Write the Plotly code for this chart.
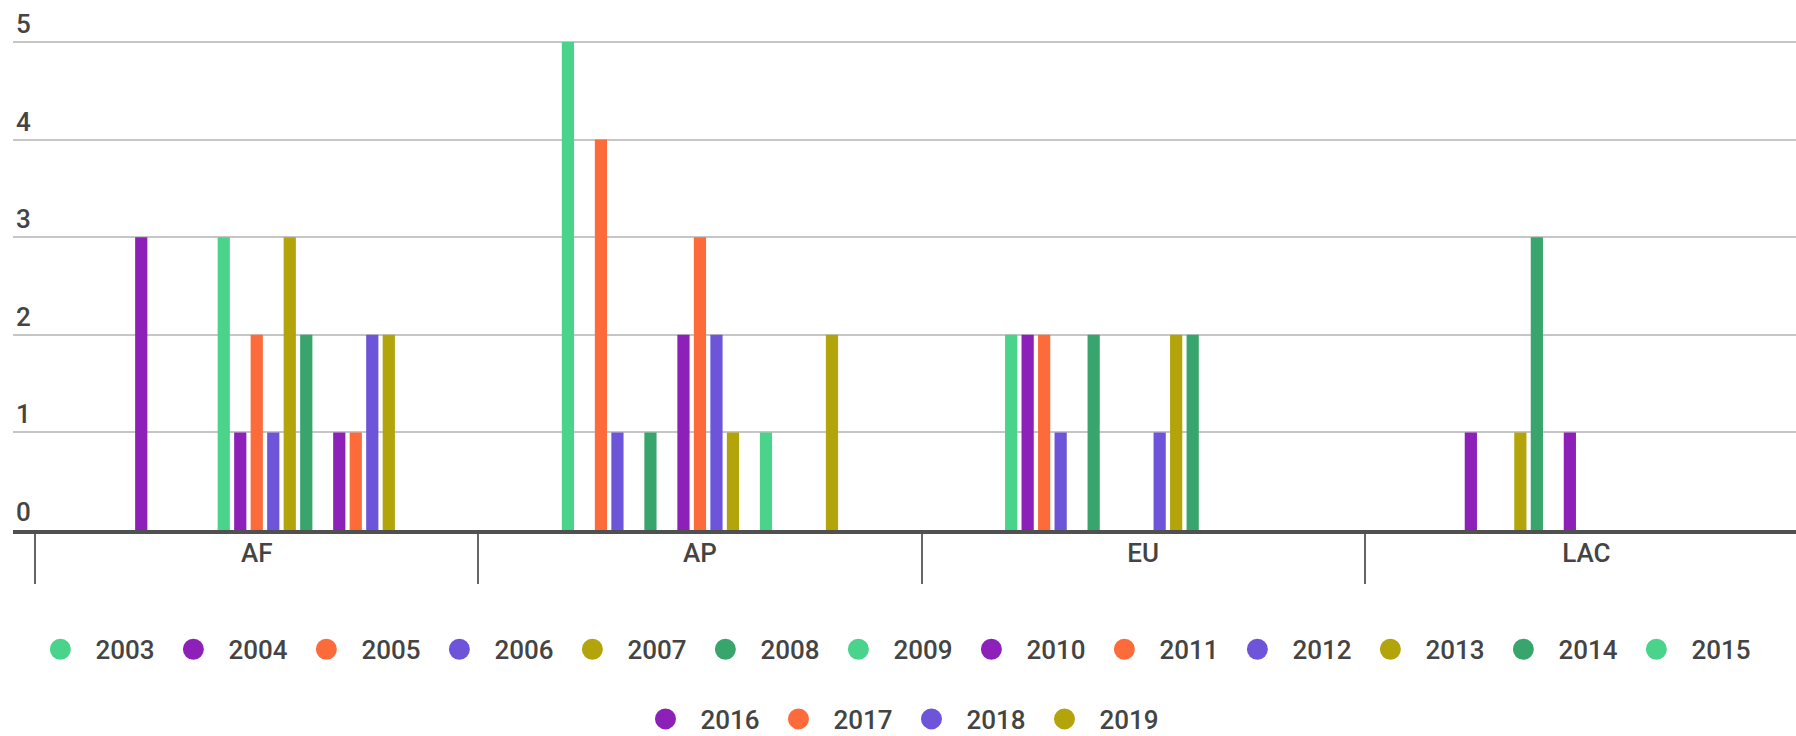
import plotly.graph_objects as go

# ---- data ----
regions = ["AF", "AP", "EU", "LAC"]
years = ["2003", "2004", "2005", "2006", "2007", "2008", "2009", "2010", "2011",
         "2012", "2013", "2014", "2015", "2016", "2017", "2018", "2019"]

# one value per year (same order as `years`) for each region
af_values = [0, 3, 0, 0, 0, 0, 3, 1, 2, 1, 3, 2, 0, 1, 1, 2, 2]
ap_values = [5, 0, 4, 1, 0, 1, 0, 2, 3, 2, 1, 0, 1, 0, 0, 0, 2]
eu_values = [2, 2, 2, 1, 0, 2, 0, 0, 0, 1, 2, 2, 0, 0, 0, 0, 0]
lac_values = [0, 1, 0, 0, 1, 3, 0, 1, 0, 0, 0, 0, 0, 0, 0, 0, 0]

y_ticks = [0, 1, 2, 3, 4, 5]

# ---- style ----
palette = ["#4ad38b", "#8c20b8", "#fe6b3a", "#6e54d9", "#b2a40a", "#38a56c"]
FONT = "Roboto"
TEXT = "#444444"
FIRST_ROW = 13  # legend entries on the first legend row

fig = go.Figure()
for i, yr in enumerate(years):
    col = palette[i % len(palette)]
    fig.add_trace(go.Bar(
        x=regions,
        y=[af_values[i], ap_values[i], eu_values[i], lac_values[i]],
        name=yr, legendgroup=yr, showlegend=False,
        marker=dict(color=col, line=dict(width=0)),
    ))
for i, yr in enumerate(years):
    col = palette[i % len(palette)]
    fig.add_trace(go.Scatter(
        x=[None], y=[None], mode="markers", name=yr, legendgroup=yr,
        legend="legend" if i < FIRST_ROW else "legend2",
        marker=dict(symbol="circle", size=16, color=col, line=dict(color=col, width=5)),
        hoverinfo="skip",
    ))

x_range = [-0.55, 3.473]
legend_common = dict(
    orientation="h", xanchor="center", yanchor="middle",
    font=dict(family=FONT, size=26, color=TEXT, weight=500),
    itemwidth=60, entrywidth=58, itemsizing="trace",
    bgcolor="rgba(0,0,0,0)", borderwidth=0,
)

fig.update_layout(
    width=1796, height=736,
    margin=dict(l=13, r=0, t=2, b=206, autoexpand=False),
    paper_bgcolor="white", plot_bgcolor="white",
    barmode="group", bargap=0.367, bargroupgap=0.26,
    font=dict(family=FONT, size=26, color=TEXT),
    xaxis=dict(
        type="category", categoryorder="array", categoryarray=regions,
        range=x_range, showline=True, linecolor="#505050", linewidth=3.5,
        ticks="outside", tickson="boundaries", ticklen=50, tickwidth=1.5,
        tickcolor="#666666",
        showgrid=False, zeroline=False,
        tickfont=dict(family=FONT, size=26, color=TEXT, weight=500),
        ticklabelstandoff=-3,
    ),
    yaxis=dict(
        range=[0, 5.41], tickvals=y_ticks, showgrid=True, gridcolor="#c6c6c6",
        gridwidth=1.5, zeroline=False, showline=False,
        ticklabelposition="inside top",
        tickfont=dict(family=FONT, size=26, color=TEXT, weight=500),
    ),
    legend=dict(legend_common, x=0.4918, y=-0.226),
    legend2=dict(legend_common, x=0.4955, y=-0.358),
    showlegend=True,
)

fig.write_html(
    "out.html",
    config={"displayModeBar": False},
    post_script="document.body.style.margin='0';document.body.style.overflow='hidden';",
)
